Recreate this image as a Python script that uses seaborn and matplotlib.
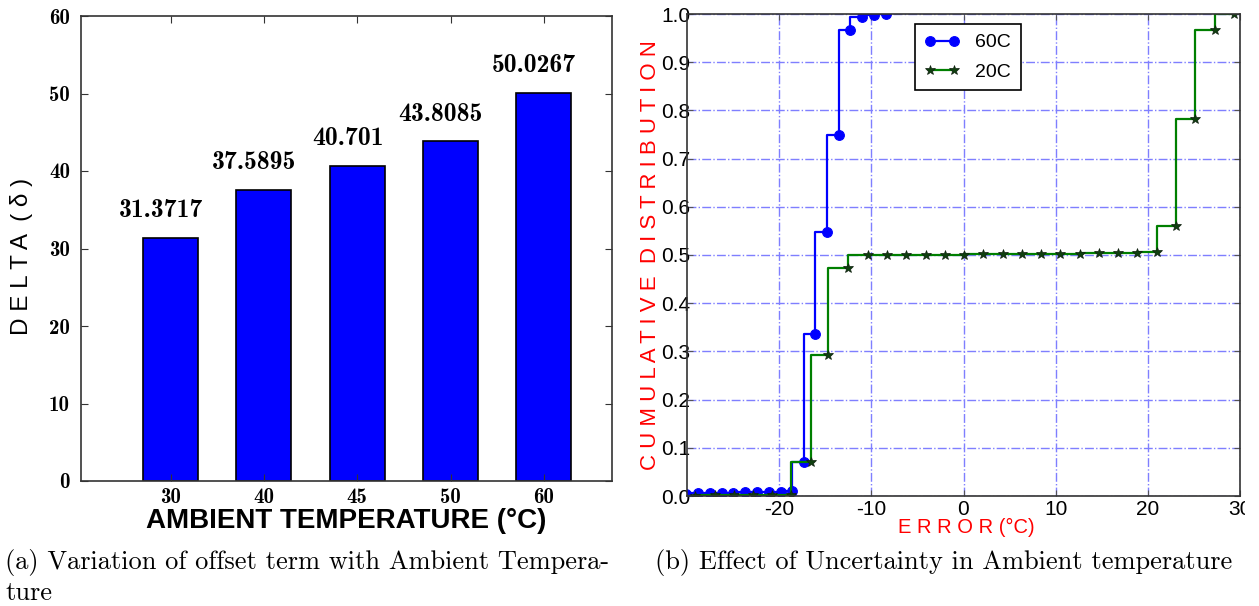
import matplotlib
matplotlib.use('Agg')
import matplotlib.pyplot as plt
import seaborn as sns
from matplotlib.transforms import Bbox, TransformedBbox

# ---------------- data ----------------
temps = ['30', '40', '45', '50', '60']
delta = [31.3717, 37.5895, 40.701, 43.8085, 50.0267]
delta_labels = ['31.3717', '37.5895', '40.701', '43.8085', '50.0267']
left_yticks = [0, 10, 20, 30, 40, 50, 60]
left_yticklabels = ['0', '10', '20', '30', '40', '50', '60']

err_60 = [-30.1, -28.8, -27.5, -26.2, -25.0, -23.7, -22.4, -21.1, -19.8, -18.6,
          -17.3, -16.1, -14.8, -13.5, -12.3, -11.0, -9.7, -8.4]
cdf_60 = [0.005, 0.006, 0.006, 0.007, 0.007, 0.008, 0.008, 0.009, 0.009, 0.010,
          0.071, 0.337, 0.548, 0.748, 0.966, 0.994, 0.997, 0.999]

err_20 = [-31.2, -29.1, -27.0, -24.9, -22.8, -20.8, -18.7, -16.6, -14.7, -12.5,
          -10.35, -8.27, -6.19, -4.11, -2.0, 0.09, 2.16, 4.24, 6.32, 8.44,
          10.52, 12.64, 14.72, 16.8, 18.87, 20.95, 23.07, 25.15, 27.27, 29.35]
cdf_20 = [0.001, 0.001, 0.002, 0.002, 0.002, 0.003, 0.003, 0.070, 0.292, 0.473,
          0.499, 0.500, 0.500, 0.501, 0.501, 0.501, 0.502, 0.502, 0.502, 0.503,
          0.503, 0.503, 0.504, 0.504, 0.505, 0.506, 0.560, 0.783, 0.966, 0.999]

right_xticks = [-20, -10, 0, 10, 20, 30]
right_xticklabels = ['-20', '-10', '0', '10', '20', '30']
right_yticks = [0.0, 0.1, 0.2, 0.3, 0.4, 0.5, 0.6, 0.7, 0.8, 0.9, 1.0]
right_yticklabels = ['0.0', '0.1', '0.2', '0.3', '0.4', '0.5', '0.6', '0.7', '0.8', '0.9', '1.0']

# ---------------- figure ----------------
W, H = 1259, 606
fig = plt.figure(figsize=(W / 100, H / 100), dpi=100)
fig.patch.set_facecolor('white')

def px_axes(l, t, r, b):
    return fig.add_axes([l / W, 1 - b / H, (r - l) / W, (b - t) / H])

ax1 = px_axes(81, 16, 612, 481)
ax2 = px_axes(687, 14, 1240, 496)

# ---------- left: bar chart ----------
sns.barplot(x=temps, y=delta, color='#0000ff', saturation=1, edgecolor='black',
            linewidth=1.2, width=0.59, ax=ax1)
ax1.set_xlim(-0.96, 4.73)
ax1.set_ylim(0, 60)
ax1.set_yticks(left_yticks)
ax1.set_yticklabels(left_yticklabels, fontfamily='cmb10', fontsize=15)
ax1.set_xticks(range(len(temps)))
ax1.set_xticklabels(temps, fontfamily='cmb10', fontsize=15)
ax1.tick_params(direction='in', top=True, right=True, length=5, width=0.8,
                colors='#333333', labelcolor='black')
ax1.tick_params(axis='y', pad=8)
ax1.tick_params(axis='x', pad=5)
for s in ax1.spines.values():
    s.set_color('#333333')
    s.set_linewidth(1.2)
for i, (v, lab) in enumerate(zip(delta, delta_labels)):
    ax1.annotate(lab, xy=(i, v), xytext=(-7, 15), textcoords='offset points',
                 ha='center', va='baseline', fontfamily='cmb10', fontsize=18.5)
ax1.set_ylabel('D E L T A  ( δ )', fontfamily='Liberation Sans', fontsize=17.5)
ax1.yaxis.set_label_coords(-0.09, 0.484)
ax1.set_xlabel('AMBIENT TEMPERATURE (°C)', fontfamily='Liberation Sans',
               fontsize=20, fontweight='bold')
ax1.xaxis.set_label_coords(0.5, -0.058)

# ---------- right: step CDF ----------
sns.lineplot(x=err_60, y=cdf_60, ax=ax2, drawstyle='steps-pre', color='#0000ff',
             marker='o', markersize=7, markeredgecolor='#0000ff', markeredgewidth=0.8,
             linewidth=1.6, estimator=None, sort=False, label='60C')
sns.lineplot(x=err_20, y=cdf_20, ax=ax2, drawstyle='steps-pre', color='#007f00',
             marker='*', markersize=7, markerfacecolor='#0f3f0f', markeredgecolor='#102010',
             markeredgewidth=0.5, linewidth=1.6, estimator=None, sort=False, label='20C')
ax2.set_xlim(-30, 30)
ax2.set_ylim(0, 1.0)
ax2.set_xticks(right_xticks)
ax2.set_xticklabels(right_xticklabels, fontfamily='Liberation Sans', fontsize=15)
ax2.set_yticks(right_yticks)
ax2.set_yticklabels(right_yticklabels, fontfamily='Liberation Sans', fontsize=15)
ax2.tick_params(axis='both', direction='in', top=True, right=True, length=4,
                width=0.8, colors='#555555', labelcolor='black')
ax2.tick_params(axis='y', pad=-2.5)
ax2.tick_params(axis='x', pad=3)
ax2.grid(True, color='#7f7fff', linestyle='-.', linewidth=1.0)
ax2.set_axisbelow(True)
for s in ax2.spines.values():
    s.set_color('#333333')
    s.set_linewidth(1.2)
clipbox = TransformedBbox(Bbox([[0, 0], [1245 / W, 1]]), fig.transFigure)
for lab in ax2.get_xticklabels():
    lab.set_clip_box(clipbox)
    lab.set_clip_on(True)
leg = ax2.legend(loc='upper left', bbox_to_anchor=(0.412, 0.979), numpoints=2,
                 frameon=True, fancybox=False, edgecolor='black', framealpha=1,
                 prop=dict(family='Liberation Sans', size=14), handlelength=1.8,
                 borderpad=0.5, labelspacing=0.6, borderaxespad=0)
leg.get_frame().set_linewidth(1.2)
ax2.set_ylabel('C U M U L A T I V E  D I S T R I B U T I O N', color='red',
               fontfamily='Liberation Sans', fontsize=16)
ax2.yaxis.set_label_coords(-0.047, 0.5)
ax2.set_xlabel('E R R O R (°C)', color='red', fontfamily='Liberation Sans', fontsize=14.5)
ax2.xaxis.set_label_coords(0.505, -0.046)

# ---------- captions ----------
fig.text(5 / W, 1 - 562 / H, '(a) Variation of offset term with Ambient Tempera-',
         fontfamily='cmr10', fontsize=19, va='center', ha='left')
fig.text(5 / W, 1 - 593 / H, 'ture', fontfamily='cmr10', fontsize=19,
         va='center', ha='left')
fig.text(944 / W, 1 - 562 / H, '(b) Effect of Uncertainty in Ambient temperature',
         fontfamily='cmr10', fontsize=19, va='center', ha='center')

fig.savefig('out.png', dpi=100, facecolor='white')
